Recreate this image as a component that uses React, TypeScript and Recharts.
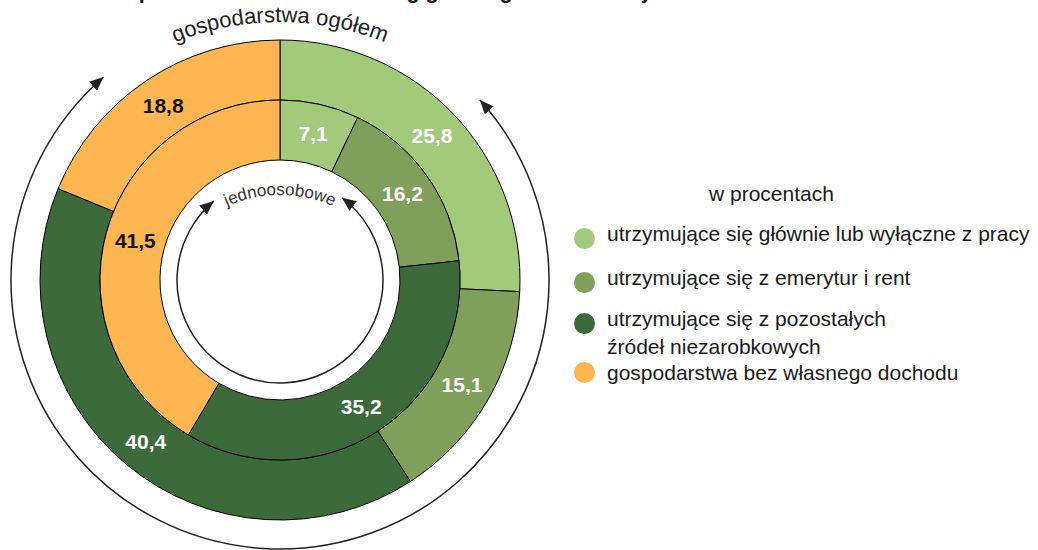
import React from "react";
import { Cell, Legend, Pie, PieChart } from "recharts";

const categories = [
  "utrzymujące się głównie lub wyłączne z pracy",
  "utrzymujące się z emerytur i rent",
  "utrzymujące się z pozostałych źródeł niezarobkowych",
  "gospodarstwa bez własnego dochodu",
];
// gospodarstwa ogółem (outer ring)
const allHouseholds = [25.8, 15.1, 40.4, 18.8];
// jednoosobowe (inner ring)
const singlePerson = [7.1, 16.2, 35.2, 41.5];

const colors = ["#A3CA7B", "#7F9F5B", "#3D6A3B", "#FDB652"];
const labelColors = ["#ffffff", "#ffffff", "#ffffff", "#111111"];

const FONT = "'Liberation Sans', Arial, sans-serif";
const CX = 280;
const CY = 280;
const RAD = Math.PI / 180;

const outerData = categories.map((name, i) => ({ name, value: allHouseholds[i] }));
const innerData = categories.map((name, i) => ({ name, value: singlePerson[i] }));

const fmt = (v: number) => v.toFixed(1).replace(".", ",");

const renderLabel = (props: any) => {
  const { cx, cy, midAngle, innerRadius, outerRadius, value, index } = props;
  const r = (innerRadius + outerRadius) / 2;
  const x = cx + r * Math.cos(-midAngle * RAD);
  const y = cy + r * Math.sin(-midAngle * RAD);
  return (
    <text
      x={x}
      y={y}
      textAnchor="middle"
      dominantBaseline="central"
      fill={labelColors[index]}
      fontSize={21}
      fontWeight="bold"
      fontFamily={FONT}
    >
      {fmt(value)}
    </text>
  );
};

const pt = (r: number, deg: number) => [CX + r * Math.cos(deg * RAD), CY - r * Math.sin(deg * RAD)];

// arc going round the bottom, from upper-left to upper-right
const arcPath = (r: number, fromDeg: number, toDeg: number) => {
  const [x1, y1] = pt(r, fromDeg);
  const [x2, y2] = pt(r, toDeg);
  return `M${x1},${y1} A${r},${r} 0 1 0 ${x2},${y2}`;
};

const LegendBox = () => {
  const text: React.CSSProperties = {
    position: "absolute",
    left: 607,
    fontFamily: FONT,
    fontSize: 21,
    lineHeight: "24px",
    color: "#1a1a1a",
    whiteSpace: "nowrap",
  };
  const dot = (top: number, color: string): React.CSSProperties => ({
    position: "absolute",
    left: 574,
    top: top - 10.5,
    width: 21,
    height: 21,
    borderRadius: "50%",
    background: color,
  });
  return (
    <div style={{ position: "relative", width: 1038, height: 550 }}>
      <div style={{ ...text, left: 709, top: 182 }}>w procentach</div>
      <div style={dot(238, colors[0])} />
      <div style={{ ...text, top: 222 }}>{categories[0]}</div>
      <div style={dot(282, colors[1])} />
      <div style={{ ...text, top: 266 }}>{categories[1]}</div>
      <div style={dot(323, colors[2])} />
      <div style={{ ...text, top: 305, lineHeight: "28px", whiteSpace: "normal", width: 320 }}>{categories[2]}</div>
      <div style={dot(372, colors[3])} />
      <div style={{ ...text, top: 361 }}>{categories[3]}</div>
    </div>
  );
};

export default function App() {
  return (
    <div style={{ position: "absolute", left: 0, top: 0, width: 1038, height: 550, background: "#fff" }}>
      <PieChart width={1038} height={550} margin={{ top: 0, right: 0, bottom: 0, left: 0 }}>
        <defs>
          <marker
            id="arrowHead"
            viewBox="0 0 14 12"
            refX="14"
            refY="6"
            markerWidth="14"
            markerHeight="12"
            markerUnits="userSpaceOnUse"
            orient="auto-start-reverse"
          >
            <path d="M0,0 L14,6 L0,12 z" fill="#222" />
          </marker>
          <path id="outerTextArc" d={`M${CX - 280},302 A280,280 0 0 1 ${CX + 280},302`} fill="none" />
          <path id="innerTextArc" d={`M${CX - 132},327 A132,132 0 0 1 ${CX + 132},327`} fill="none" />
        </defs>

        {/* title, cut off at the top edge in the source */}
        <text x={97} y={-2} fontSize={21.5} fontWeight="bold" fontFamily={FONT} fill="#111">
          Gospodarstwa domowe według głównego źródła utrzymania
        </text>

        <Pie
          data={outerData}
          dataKey="value"
          nameKey="name"
          cx={CX}
          cy={CY}
          innerRadius={180}
          outerRadius={240}
          startAngle={90}
          endAngle={-270}
          stroke="#000"
          strokeWidth={1}
          label={renderLabel}
          labelLine={false}
          isAnimationActive={false}
        >
          {outerData.map((d, i) => (
            <Cell key={d.name} fill={colors[i]} />
          ))}
        </Pie>
        <Pie
          data={innerData}
          dataKey="value"
          nameKey="name"
          cx={CX}
          cy={CY}
          innerRadius={120}
          outerRadius={180}
          startAngle={90}
          endAngle={-270}
          stroke="#000"
          strokeWidth={1}
          label={renderLabel}
          labelLine={false}
          isAnimationActive={false}
        >
          {innerData.map((d, i) => (
            <Cell key={d.name} fill={colors[i]} />
          ))}
        </Pie>

        <path
          d={arcPath(269, 131, 42)}
          fill="none"
          stroke="#222"
          strokeWidth={1.5}
          markerStart="url(#arrowHead)"
          markerEnd="url(#arrowHead)"
        />
        <path
          d={arcPath(103, 130, 53)}
          fill="none"
          stroke="#222"
          strokeWidth={1.5}
          markerStart="url(#arrowHead)"
          markerEnd="url(#arrowHead)"
        />

        <text fontSize={22} fontFamily={FONT} fill="#222">
          <textPath href="#outerTextArc" startOffset="50%" textAnchor="middle">
            gospodarstwa ogółem
          </textPath>
        </text>
        <text fontSize={17} fontFamily={FONT} fill="#333">
          <textPath href="#innerTextArc" startOffset="50%" textAnchor="middle">
            jednoosobowe
          </textPath>
        </text>

        <Legend
          content={() => <LegendBox />}
          wrapperStyle={{ position: "absolute", left: 0, top: 0, width: 1038, height: 550 }}
        />
      </PieChart>
    </div>
  );
}
